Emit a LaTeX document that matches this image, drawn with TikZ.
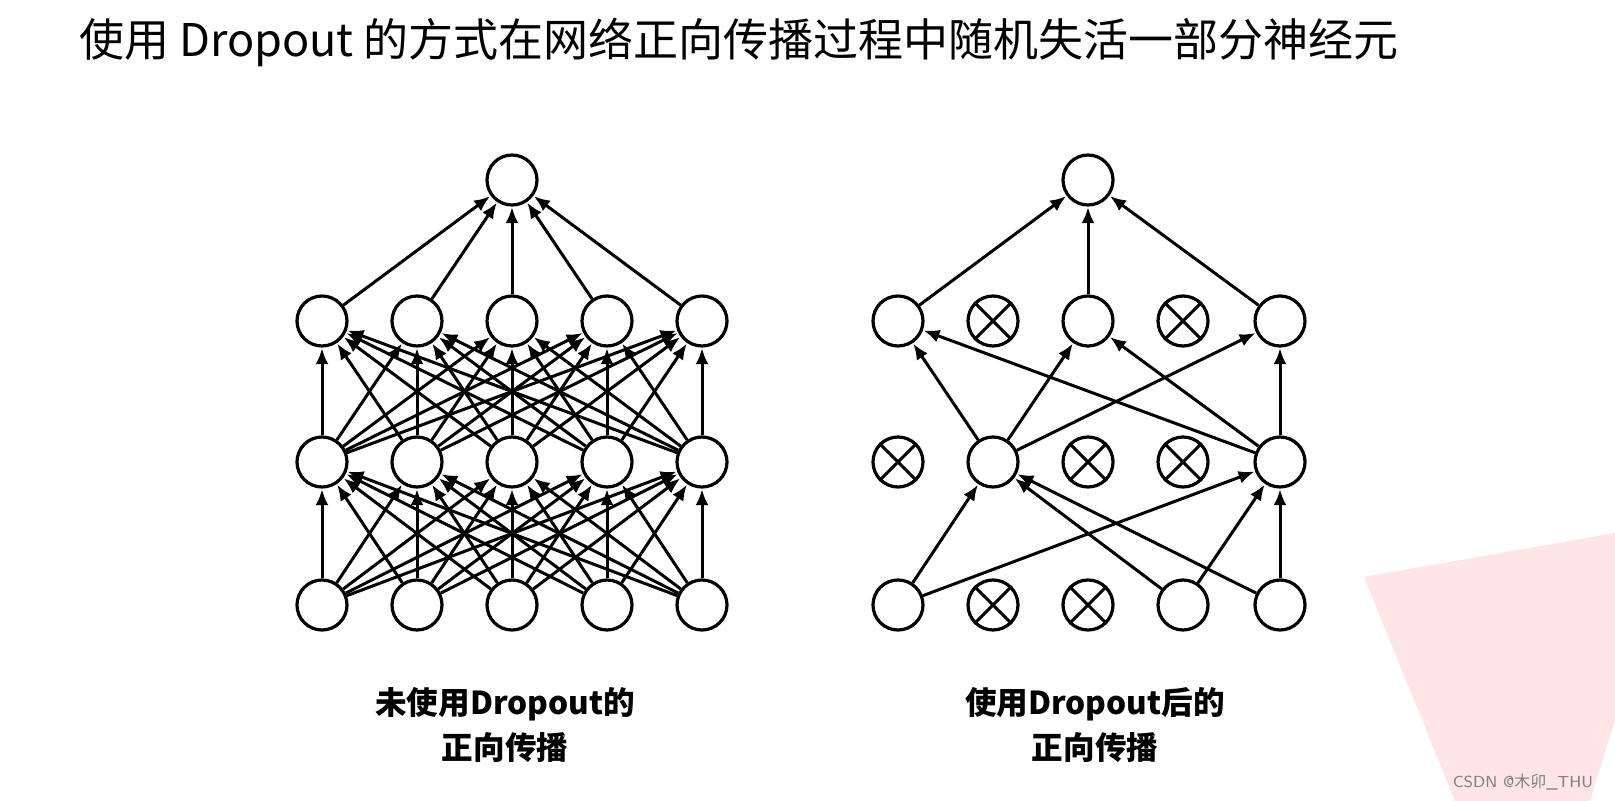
\documentclass[tikz,border=0pt]{standalone}
\usepackage{fontspec}
\newfontfamily\cjk{Noto Sans CJK SC}
\usetikzlibrary{arrows.meta}
\tikzset{
 neuron/.style={circle,draw,line width=1.6pt,minimum size=25pt,inner sep=0pt,fill=white},
 conn/.style={line width=1.5pt,-{Latex[length=8pt,width=6.5pt]},shorten >=0.3pt},
 captxt/.style={font=\cjk\fontsize{15.8}{22.5}\selectfont\bfseries,align=center}
}
\begin{document}
\begin{tikzpicture}[x=0.5pt,y=-0.5pt]
\useasboundingbox (0,0) rectangle (1615,801);
\fill[red!10] (1364,577) -- (1615,533) -- (1615,720) -- (1590,801) -- (1455,801) -- cycle;
\node[anchor=west,font=\cjk\fontsize{22.5}{26}\selectfont] (title) at (72,42) {使用 Dropout 的方式在网络正向传播过程中随机失活一部分神经元};
% left network
\foreach \i/\x in {1/322,2/417,3/512,4/607,5/702}{
  \node[neuron] (a\i) at (\x,605) {};
  \node[neuron] (b\i) at (\x,462) {};
  \node[neuron] (c\i) at (\x,321) {};
}
\node[neuron] (ltop) at (512,180) {};
\foreach \i in {1,...,5}{
  \foreach \j in {1,...,5}{
    \draw[conn] (a\i) -- (b\j);
    \draw[conn] (b\i) -- (c\j);
  }
  \draw[conn] (c\i) -- (ltop);
}
% right network
\foreach \i/\x in {1/898,2/993,3/1088,4/1183,5/1280}{
  \node[neuron] (p\i) at (\x,605) {};
  \node[neuron] (q\i) at (\x,462) {};
  \node[neuron] (r\i) at (\x,321) {};
}
\node[neuron] (rtop) at (1088,180) {};
\foreach \n in {p2,p3,q1,q3,q4,r2,r4}{
  \draw[line width=1.5pt] (\n.north west) -- (\n.south east) (\n.north east) -- (\n.south west);
}
\foreach \s/\t in {p1/q2,p1/q5,p4/q2,p4/q5,p5/q2,p5/q5,q2/r1,q2/r3,q2/r5,q5/r1,q5/r3,q5/r5,r1/rtop,r3/rtop,r5/rtop}{
  \draw[conn] (\s) -- (\t);
}
\node[captxt] (lc) at (505,725) {未使用Dropout的\\正向传播};
\node[captxt] (rc) at (1095,725) {使用Dropout后的\\正向传播};
\node[anchor=east,font=\fontsize{8}{9}\selectfont\sffamily,text=gray] (wm) at (1600,782) {CSDN @{\cjk 木卯}\_THU};
\end{tikzpicture}
\end{document}
